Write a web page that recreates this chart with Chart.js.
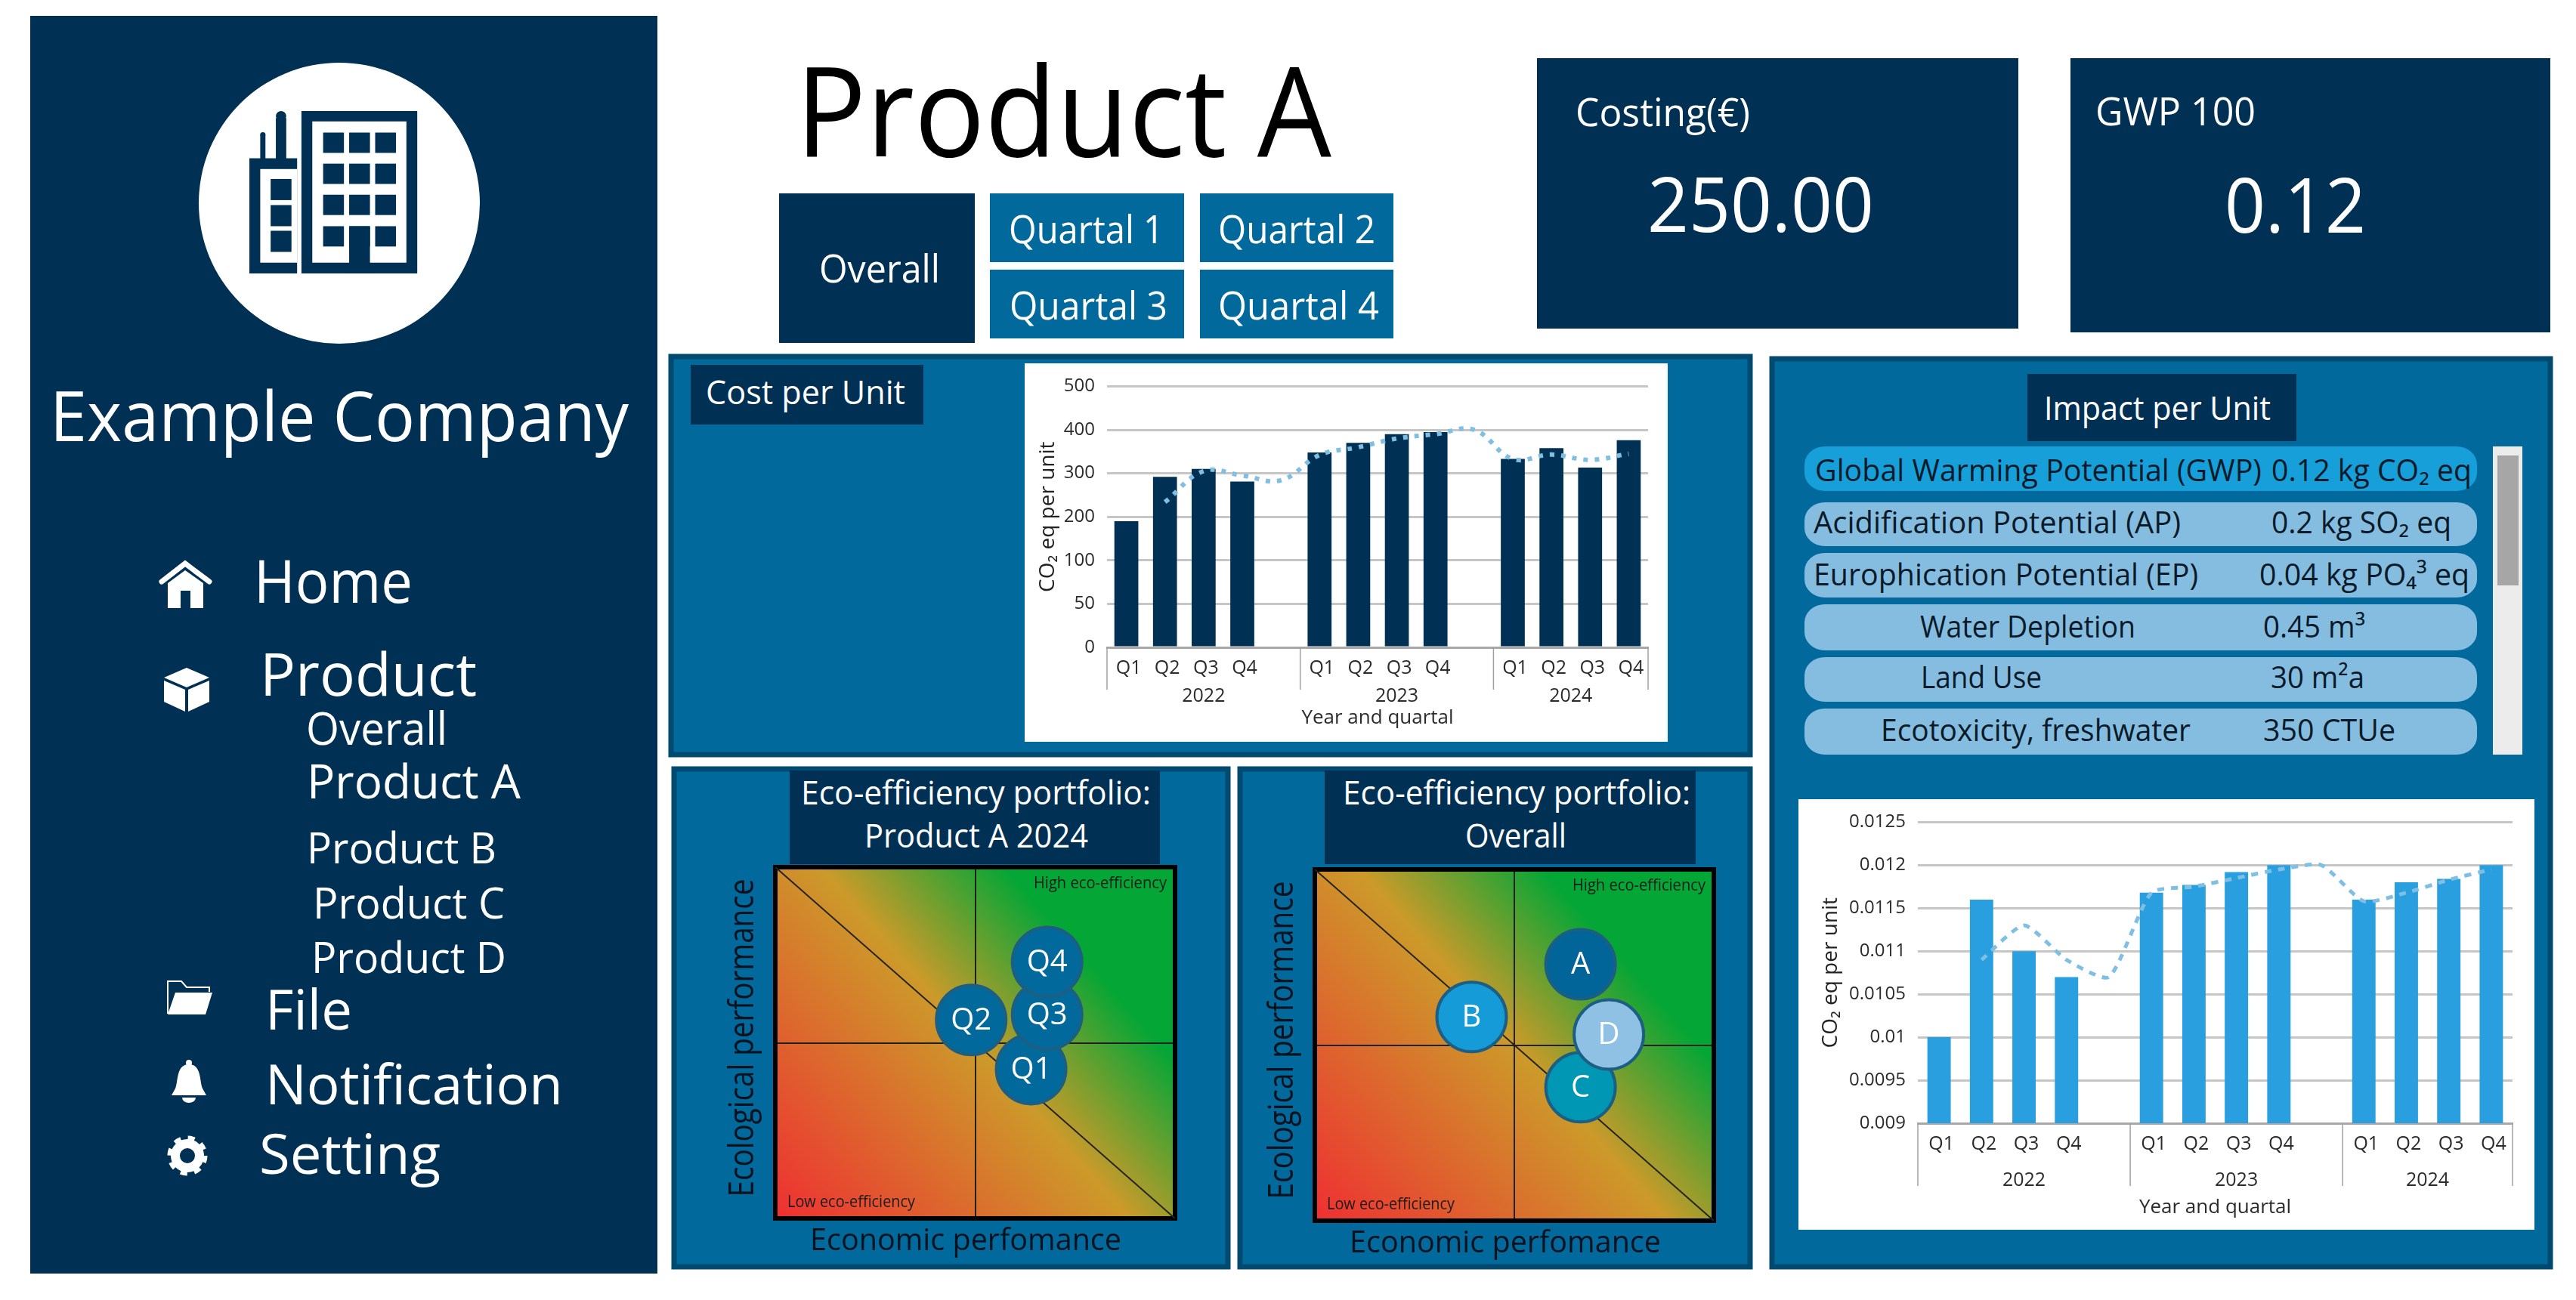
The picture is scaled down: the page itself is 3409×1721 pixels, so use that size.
<!DOCTYPE html>
<html>
<head>
<meta charset="utf-8">
<title>Product A dashboard</title>
<script src="https://cdn.jsdelivr.net/npm/chart.js@4"></script>
<style>
  html, body { margin: 0; padding: 0; background: #fff; width: 3409px; height: 1721px; overflow: hidden; }
  #frame { position: absolute; left: 0; top: 0; }
  canvas { position: absolute; }
  text { font-family: "Open Sans", sans-serif; }
</style>
</head>
<body>
<svg id="frame" width="3409" height="1721" xmlns="http://www.w3.org/2000/svg"></svg>
<canvas id="costChart" style="left:1356px;top:481px" width="851" height="501"></canvas>
<canvas id="impactChart" style="left:2380px;top:1058px" width="974" height="570"></canvas>
<canvas id="portfolioA" style="left:889px;top:1014px" width="738" height="664"></canvas>
<canvas id="portfolioAll" style="left:1639px;top:1017px" width="679" height="661"></canvas>
<script>
// chart data
const quarters = ['Q1', 'Q2', 'Q3', 'Q4', '', 'Q1', 'Q2', 'Q3', 'Q4', '', 'Q1', 'Q2', 'Q3', 'Q4'];
const years = ['2022', '2023', '2024'];

const costTicks = [0, 50, 100, 200, 300, 400, 500];
const costBars = [190, 292, 310, 281, null, 348, 370, 390, 395, null, 333, 358, 313, 376];
const costTrend = [null, 234, 305, 295, 284, 342, 360, 380, 390, 400, 333, 343, 331, 345];

const impactTicks = [0.009, 0.0095, 0.01, 0.0105, 0.011, 0.0115, 0.012, 0.0125];
const impactBars = [0.01, 0.0116, 0.011, 0.0107, null, 0.01168, 0.01177, 0.01192, 0.012, null, 0.0116, 0.0118, 0.01184, 0.012];
const impactTrend = [null, 0.0109, 0.0113, 0.0109, 0.0107, 0.01168, 0.01175, 0.01185, 0.01195, 0.012, 0.01158, 0.01168, 0.01183, 0.01195];

const quarterNames = ['Q1', 'Q2', 'Q3', 'Q4'];
const quarterEconomic = [64, 49, 68, 68];
const quarterEcological = [42.5, 56.5, 58, 73];
const quarterColors = ['#02699c', '#02699c', '#02699c', '#02699c'];

const productNames = ['C', 'A', 'B', 'D'];
const productEconomic = [66.6, 66.6, 39.3, 73.7];
const productEcological = [38, 73, 58, 53];
const productColors = ['#0097b5', '#02659a', '#169bd9', '#8fc1e5'];

const diagonalX = [0, 100];
const diagonalY = [100, 0];

// page frame
const NAVY = '#003053', BLUE = '#02699c', EDGE = '#004a70', FONT = '"Open Sans", sans-serif';
const svg = document.getElementById('frame');
function el(name, attrs, parent) {
  const e = document.createElementNS('http://www.w3.org/2000/svg', name);
  for (const k in attrs) e.setAttribute(k, attrs[k]);
  (parent || svg).appendChild(e);
  return e;
}
function box(x0, y0, x1, y1, fill, extra) {
  return el('rect', Object.assign({ x: x0, y: y0, width: x1 - x0, height: y1 - y0, fill }, extra || {}));
}
// text squeezed to the width it has in the picture
function label(str, x0, base, x1, size, fill) {
  const t = el('text', { x: x0, y: base, 'font-size': size, fill, textLength: x1 - x0, lengthAdjust: 'spacingAndGlyphs' });
  t.textContent = str;
}

box(40, 21, 870, 1686, NAVY);
box(2034, 77, 2671, 435, NAVY);
box(2740, 77, 3375, 440, NAVY);
box(1031, 256, 1290, 454, NAVY);
box(1310, 256, 1567, 347, BLUE);
box(1588, 256, 1844, 347, BLUE);
box(1310, 357, 1567, 448, BLUE);
box(1588, 357, 1844, 448, BLUE);

const panel = { fill: BLUE, stroke: EDGE, 'stroke-width': 7 };
box(888, 472, 2316, 999, BLUE, panel);
box(892, 1018, 1625, 1677, BLUE, panel);
box(1641, 1018, 2316, 1677, BLUE, panel);
box(2345, 475, 3375, 1677, BLUE, panel);

box(1356, 481, 2207, 982, '#fff');
box(2380, 1058, 3354, 1628, '#fff');
box(914, 483, 1222, 562, NAVY);
box(2683, 495, 3039, 584, NAVY);
box(1045, 1020, 1535, 1144, NAVY);
box(1753, 1020, 2244, 1144, NAVY);

// logo
el('circle', { cx: 449, cy: 269, r: 186, fill: '#fff' });
const logo = el('svg', { x: 0, y: 0, width: 900, height: 860, viewBox: '0 0 1568 1568', preserveAspectRatio: 'none' });
[[695, 268, 267, 392], [575, 382, 110, 278], [636, 285, 24, 100], [600, 325, 12, 60]].forEach(r =>
  el('rect', { x: r[0], y: r[1], width: r[2], height: r[3], fill: NAVY }, logo));
el('circle', { cx: 648, cy: 280, r: 12, fill: NAVY }, logo);
el('circle', { cx: 606, cy: 325, r: 6, fill: NAVY }, logo);
el('rect', { x: 720, y: 293, width: 217, height: 341, fill: '#fff' }, logo);
el('rect', { x: 600, y: 408, width: 85, height: 226, fill: '#fff' }, logo);
[745, 805, 865].forEach(wx => [320, 395, 470, 546].forEach(wy =>
  el('rect', { x: wx, y: wy, width: 48, height: 49, fill: NAVY }, logo)));
el('rect', { x: 805, y: 546, width: 48, height: 114, fill: NAVY }, logo);
[432, 495, 557].forEach(wy => el('rect', { x: 624, y: wy, width: 48, height: 51, fill: NAVY }, logo));

// menu icons
el('polyline', { points: '214,770 245,746 277,770', fill: 'none', stroke: '#fff', 'stroke-width': 7, 'stroke-linecap': 'round' });
el('path', { d: 'M222 772 L245 755 L269 772 V805 H252 V782 H239 V805 H222 Z', fill: '#fff' });
el('path', { d: 'M247 884 L277 897 L247 910 L217 897 Z', fill: '#fff' });
el('path', { d: 'M217 901 L245 913 V942 L217 929 Z', fill: '#fff' });
el('path', { d: 'M249 913 L277 901 V929 L249 942 Z', fill: '#fff' });
el('path', { d: 'M222 1342 V1299 H240 L247 1307 H277 V1313', fill: 'none', stroke: '#fff', 'stroke-width': 2 });
el('path', { d: 'M222 1343 L232 1314 H281 L272 1343 Z', fill: '#fff' });
el('circle', { cx: 250, cy: 1407, r: 4, fill: '#fff' });
el('path', { d: 'M250 1409 C267 1409 264 1432 268 1441 L273 1450 H227 L232 1441 C236 1432 233 1409 250 1409 Z', fill: '#fff' });
el('path', { d: 'M241 1453 H259 A9 7 0 0 1 241 1453 Z', fill: '#fff' });
el('circle', { cx: 248, cy: 1530, r: 16, fill: 'none', stroke: '#fff', 'stroke-width': 12 });
el('circle', { cx: 248, cy: 1530, r: 23.5, fill: 'none', stroke: '#fff', 'stroke-width': 6, 'stroke-dasharray': '9 9.45' });

// sidebar text
label('Example Company', 66, 584, 832, 92, '#fff');
label('Home', 336, 798, 546, 78, '#fff');
label('Product', 344, 921, 631, 78, '#fff');
label('Overall', 405, 986, 592, 60, '#fff');
label('Product A', 406, 1057, 689, 62, '#fff');
label('Product B', 406, 1143, 657, 57, '#fff');
label('Product C', 414, 1216, 668, 57, '#fff');
label('Product D', 412, 1288, 670, 57, '#fff');
label('File', 351, 1363, 466, 73, '#fff');
label('Notification', 351, 1462, 745, 73, '#fff');
label('Setting', 343, 1554, 583, 73, '#fff');

// header text
label('Product A', 1053, 207, 1762, 165, '#000');
label('Overall', 1084, 374, 1244, 52, '#fff');
label('Quartal 1', 1335, 322, 1540, 52, '#fff');
label('Quartal 2', 1612, 322, 1820, 52, '#fff');
label('Quartal 3', 1336, 423, 1545, 52, '#fff');
label('Quartal 4', 1612, 423, 1825, 52, '#fff');
label('Costing(€)', 2085, 167, 2316, 52, '#fff');
label('250.00', 2180, 307, 2480, 100, '#fff');
label('GWP 100', 2773, 166, 2985, 52, '#fff');
label('0.12', 2944, 308, 3131, 100, '#fff');

// panel titles
label('Cost per Unit', 934, 535, 1198, 44, '#fff');
label('Impact per Unit', 2705, 556, 3005, 44, '#fff');
label('Eco-efficiency portfolio:', 1060, 1065, 1523, 44, '#fff');
label('Product A 2024', 1144, 1122, 1440, 44, '#fff');
label('Eco-efficiency portfolio:', 1777, 1065, 2237, 44, '#fff');
label('Overall', 1939, 1122, 2073, 44, '#fff');

// impact list
const rowBands = [[591, 650], [665, 723], [732, 791], [800, 861], [870, 929], [938, 999]];
rowBands.forEach((r, i) => box(2388, r[0], 3278, r[1], i === 0 ? '#169fd9' : '#84bde0', { rx: 27, ry: 24 }));
const INK = '#0a1a28';
label('Global Warming Potential (GWP)', 2402, 637, 2993, 40, INK);
label('0.12 kg CO₂ eq', 3006, 637, 3271, 40, INK);
label('Acidification Potential (AP)', 2400, 706, 2886, 40, INK);
label('0.2 kg SO₂ eq', 3006, 706, 3244, 40, INK);
label('Europhication Potential (EP)', 2400, 775, 2909, 40, INK);
label('0.04 kg PO₄³ eq', 2990, 775, 3268, 40, INK);
label('Water Depletion', 2541, 844, 2826, 40, INK);
label('0.45 m³', 2995, 844, 3130, 40, INK);
label('Land Use', 2542, 911, 2702, 40, INK);
label('30 m²a', 3005, 911, 3129, 40, INK);
label('Ecotoxicity, freshwater', 2489, 981, 2899, 40, INK);
label('350 CTUe', 2995, 981, 3170, 40, INK);
box(3299, 591, 3338, 999, '#ececec');
box(3305, 603, 3333, 775, '#a6a6a6');

// value axis with evenly spaced stops (the source chart spaces 0, 50, 100, 200... equally)
class StopScale extends Chart.LinearScale {
  static id = 'stops';
  static defaults = {};
  buildTicks() {
    return this.options.stops.map(value => ({ value }));
  }
  getPixelForValue(v) {
    const s = this.options.stops;
    let i = 0;
    while (i < s.length - 2 && v > s[i + 1]) i++;
    const d = (i + (v - s[i]) / (s[i + 1] - s[i])) / (s.length - 1);
    return this.getPixelForDecimal(d);
  }
  getValueForPixel(p) {
    const s = this.options.stops;
    const pos = this.getDecimalForPixel(p) * (s.length - 1);
    const i = Math.min(Math.floor(pos), s.length - 2);
    return s[i] + (pos - i) * (s[i + 1] - s[i]);
  }
}
Chart.register(StopScale);

// year row under the quarter labels
const yearRow = {
  id: 'yearRow',
  afterDraw(chart, args, opts) {
    const x = chart.scales.x, ctx = chart.ctx;
    const slot = x.getPixelForValue(1) - x.getPixelForValue(0);
    const cuts = [x.left, x.left + 5 * slot, x.left + 10 * slot, x.right];
    ctx.save();
    ctx.strokeStyle = '#a0a0a0';
    ctx.lineWidth = 1.5;
    cuts.forEach(c => {
      ctx.beginPath();
      ctx.moveTo(c, x.top);
      ctx.lineTo(c, x.top + opts.drop);
      ctx.stroke();
    });
    ctx.fillStyle = '#2b2b2b';
    ctx.font = '25px ' + FONT;
    ctx.textAlign = 'center';
    years.forEach((y, i) => ctx.fillText(y, (cuts[i] + cuts[i + 1]) / 2, x.top + opts.baseline));
    ctx.restore();
  }
};

function barChart(id, cfg) {
  return new Chart(document.getElementById(id), {
    type: 'bar',
    plugins: [yearRow],
    data: {
      labels: quarters,
      datasets: [
        { type: 'line', data: cfg.trend, order: 0, borderColor: '#7fbfe4', borderWidth: cfg.dotWidth, borderDash: cfg.dash, tension: cfg.tension, pointRadius: 0, spanGaps: true },
        { data: cfg.bars, order: 1, backgroundColor: cfg.color, categoryPercentage: 1, barPercentage: cfg.barShare }
      ]
    },
    options: {
      responsive: false,
      animation: false,
      events: [],
      layout: { padding: cfg.padding },
      plugins: {
        legend: { display: false },
        tooltip: { enabled: false },
        yearRow: { drop: cfg.drop, baseline: cfg.yearBase }
      },
      scales: {
        x: {
          grid: { display: false },
          border: { display: true, color: '#a8a8a8', width: 3 },
          ticks: { autoSkip: false, maxRotation: 0, padding: 5, labelOffset: 3, color: '#2b2b2b', font: { family: FONT, size: 25 } },
          title: { display: true, text: 'Year and quartal', color: '#2b2b2b', padding: { top: 0, bottom: cfg.titleGap }, font: { family: FONT, size: 26 } },
          afterFit(s) { s.height = cfg.xHeight; }
        },
        y: {
          type: 'stops',
          stops: cfg.ticks,
          min: cfg.ticks[0],
          max: cfg.ticks[cfg.ticks.length - 1],
          grid: { color: '#c6c6c6', lineWidth: 3, drawTicks: false },
          border: { display: false },
          ticks: { padding: 16, color: '#2b2b2b', font: { family: FONT, size: 24 }, callback: v => String(v) },
          title: { display: true, text: 'CO₂ eq per unit', color: '#222', padding: 0, font: { family: FONT, size: 28 } },
          afterFit(s) { s.width = cfg.yWidth; }
        }
      }
    }
  });
}

barChart('costChart', {
  bars: costBars, trend: costTrend, ticks: costTicks, color: NAVY, barShare: 0.62, dotWidth: 6, dash: [6, 9], tension: 0.4,
  padding: { left: 14, top: 25, right: 26, bottom: 0 }, yWidth: 95, xHeight: 125, titleGap: 16, drop: 56, yearBase: 72
});
barChart('impactChart', {
  bars: impactBars, trend: impactTrend, ticks: impactTicks, color: '#2a9fe0', barShare: 0.55, dotWidth: 5, dash: [9, 9], tension: 0.2,
  padding: { left: 26, top: 26, right: 29, bottom: 0 }, yWidth: 132, xHeight: 141, titleGap: 14, drop: 83, yearBase: 83
});

// gradient ground, frame, captions and axis names of the portfolio squares
const portfolioGround = {
  id: 'portfolioGround',
  beforeDraw(chart) {
    const a = chart.chartArea, ctx = chart.ctx;
    const g = ctx.createLinearGradient(a.left, a.bottom, a.right, a.top);
    g.addColorStop(0, '#ef2f32');
    g.addColorStop(0.5, '#cc9a2a');
    g.addColorStop(0.76, '#04a636');
    g.addColorStop(1, '#04a636');
    ctx.fillStyle = g;
    ctx.fillRect(a.left, a.top, a.right - a.left, a.bottom - a.top);
  },
  beforeDatasetsDraw(chart) {
    const a = chart.chartArea, ctx = chart.ctx;
    ctx.save();
    ctx.strokeStyle = '#000';
    ctx.lineWidth = 6;
    ctx.strokeRect(a.left, a.top, a.right - a.left, a.bottom - a.top);
    ctx.fillStyle = '#1c1c1c';
    ctx.font = '21px ' + FONT;
    ctx.textAlign = 'right';
    ctx.fillText('High eco-efficiency', a.right - 11, a.top + 28, 176);
    ctx.textAlign = 'left';
    ctx.fillText('Low eco-efficiency', a.left + 16, a.bottom - 15, 169);
    ctx.fillStyle = '#06121e';
    ctx.textAlign = 'center';
    ctx.font = '40px ' + FONT;
    ctx.fillText('Economic perfomance', a.left + 252, a.bottom + 42, 412);
    ctx.translate(a.left - 29, a.top + 226);
    ctx.rotate(-Math.PI / 2);
    ctx.font = '46px ' + FONT;
    ctx.fillText('Ecological performance', 0, 0, 421);
    ctx.restore();
  },
  afterDatasetsDraw(chart) {
    const ctx = chart.ctx, meta = chart.getDatasetMeta(1);
    ctx.save();
    ctx.fillStyle = '#fff';
    ctx.font = '40px ' + FONT;
    ctx.textAlign = 'center';
    ctx.textBaseline = 'middle';
    meta.data.forEach((pt, i) => ctx.fillText(chart.data.datasets[1].names[i], pt.x, pt.y + 1));
    ctx.restore();
  }
};

function portfolioChart(id, cfg) {
  return new Chart(document.getElementById(id), {
    type: 'bubble',
    plugins: [portfolioGround],
    data: {
      datasets: [
        { type: 'line', order: 1, data: diagonalX.map((x, i) => ({ x, y: diagonalY[i] })), borderColor: '#222', borderWidth: 2, pointRadius: 0 },
        { order: 0, names: cfg.names, data: cfg.econ.map((x, i) => ({ x, y: cfg.ecol[i] })), radius: 46, backgroundColor: cfg.colors, borderColor: '#1d5f83', borderWidth: 4 }
      ]
    },
    options: {
      responsive: false,
      animation: false,
      events: [],
      layout: { padding: cfg.padding },
      plugins: { legend: { display: false }, tooltip: { enabled: false } },
      scales: {
        x: {
          min: 0, max: 100,
          grid: { color: '#222', lineWidth: 2, drawTicks: false },
          border: { display: false },
          ticks: { stepSize: 50, display: false },
          afterFit(s) { s.height = cfg.xHeight; }
        },
        y: {
          min: 0, max: 100,
          grid: { color: '#222', lineWidth: 2, drawTicks: false },
          border: { display: false },
          ticks: { stepSize: 50, display: false },
          afterFit(s) { s.width = cfg.yWidth; }
        }
      }
    }
  });
}

portfolioChart('portfolioA', {
  names: quarterNames, econ: quarterEconomic, ecol: quarterEcological, colors: quarterColors,
  padding: { left: 70, top: 134, right: 72, bottom: 0 }, yWidth: 67, xHeight: 65
});
portfolioChart('portfolioAll', {
  names: productNames, econ: productEconomic, ecol: productEcological, colors: productColors,
  padding: { left: 37, top: 134, right: 48, bottom: 0 }, yWidth: 64, xHeight: 62
});
</script>
</body>
</html>
